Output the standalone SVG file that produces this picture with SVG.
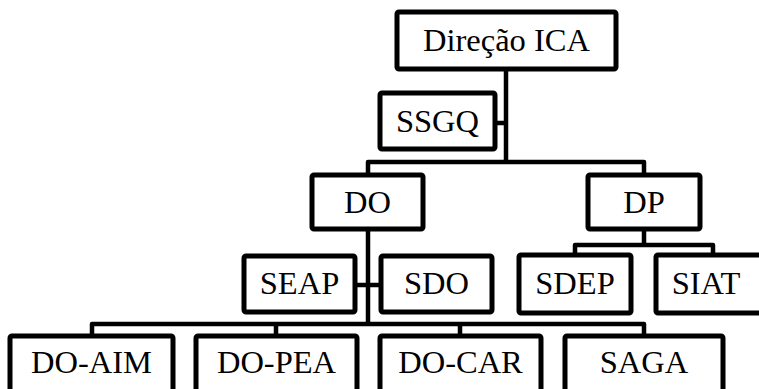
<svg xmlns="http://www.w3.org/2000/svg" width="759" height="389" viewBox="0 0 759 389">
<style>
.box{fill:#fff;stroke:#000;stroke-width:5;stroke-linejoin:round}
.ln{fill:none;stroke:#000;stroke-width:4.5;stroke-linejoin:round}
text{font-family:'Liberation Serif','Times New Roman',serif;font-size:32.5px;fill:#000;text-anchor:middle}
</style>
<rect width="759" height="389" fill="#fff"/>
<g id="connectors">
<path class="ln" d="M506 71V162M497 123H506M368 175V162H644V175"/>
<path class="ln" d="M368 231V324M357 285H379"/>
<path class="ln" d="M644 231V245M575 255V245H713V255"/>
<path class="ln" d="M92 336V324H644V336M276 324V336M460 324V336"/>
</g>
<g id="direcao"><rect class="box" x="397" y="12" width="219" height="57" rx="2"/><text x="506.5" y="51">Direção ICA</text></g>
<g id="ssgq"><rect class="box" x="380" y="93" width="115" height="56" rx="2"/><text x="437.5" y="132">SSGQ</text></g>
<g id="do"><rect class="box" x="312" y="175" width="111" height="54" rx="2"/><text x="367.5" y="213">DO</text></g>
<g id="dp"><rect class="box" x="588" y="175" width="112" height="54" rx="2"/><text x="644" y="213">DP</text></g>
<g id="seap"><rect class="box" x="244" y="256" width="111" height="56" rx="2"/><text x="299.5" y="294">SEAP</text></g>
<g id="sdo"><rect class="box" x="381" y="256" width="111" height="56" rx="2"/><text x="436.5" y="294">SDO</text></g>
<g id="sdep"><rect class="box" x="519" y="255" width="112" height="58" rx="2"/><text x="575" y="294">SDEP</text></g>
<g id="siat"><rect class="box" x="656" y="255" width="112" height="58" rx="2"/><text x="706" y="294">SIAT</text></g>
<g id="doaim"><rect class="box" x="10" y="336" width="163" height="70" rx="2"/><text x="91.5" y="373">DO-AIM</text></g>
<g id="dopea"><rect class="box" x="196" y="336" width="161" height="70" rx="2"/><text x="276.5" y="373">DO-PEA</text></g>
<g id="docar"><rect class="box" x="380" y="336" width="161" height="70" rx="2"/><text x="460.5" y="373">DO-CAR</text></g>
<g id="saga"><rect class="box" x="565" y="336" width="158" height="70" rx="2"/><text x="644" y="373">SAGA</text></g>
</svg>
